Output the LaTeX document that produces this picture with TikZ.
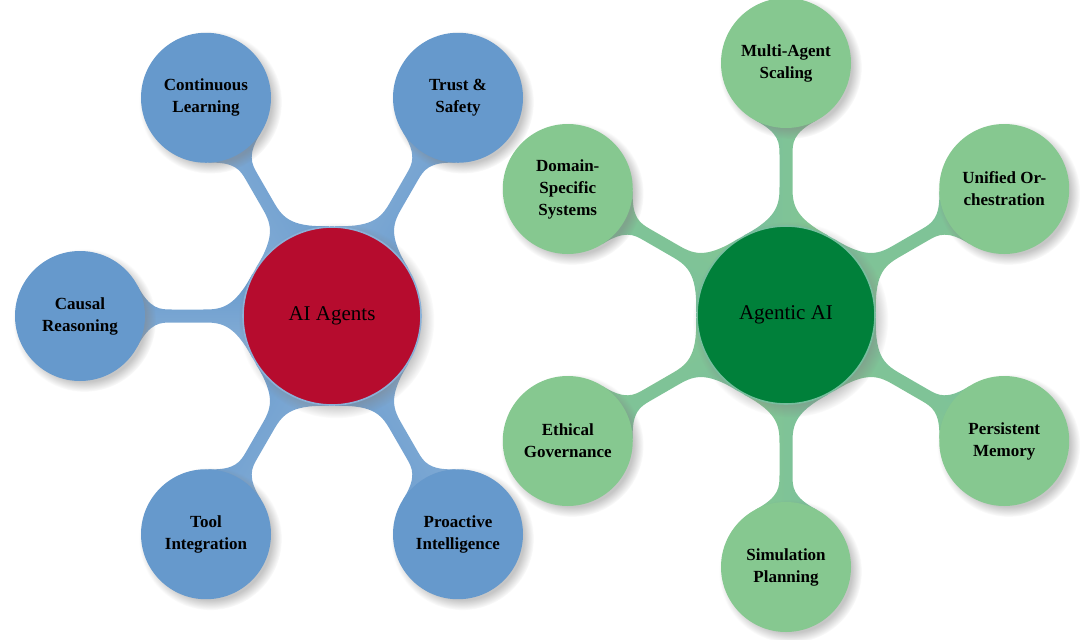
\documentclass[tikz,border=0pt]{standalone}
\usepackage{fontspec}
\setmainfont{Liberation Serif}
\usetikzlibrary{calc,shadows,fadings}
\definecolor{blueChild}{RGB}{102,153,204}
\definecolor{blueBar}{RGB}{138,177,216}
\definecolor{redRoot}{RGB}{182,12,46}
\definecolor{greenRoot}{RGB}{0,128,58}
\definecolor{greenChild}{RGB}{134,200,144}
\definecolor{greenBar}{RGB}{120,190,158}
\pgfdeclarelayer{bg}
\pgfsetlayers{bg,main}
\tikzset{
  x=1pt, y=-1pt,
  myshadow/.style={circular drop shadow={shadow xshift=4pt, shadow yshift=-4pt, opacity=0.45}},
  rootnode/.style={circle, minimum size=178pt, inner sep=0pt, line width=1.6pt,
    font=\fontsize{21}{25}\selectfont, text=black, myshadow},
  leafnode/.style={circle, minimum size=130pt, inner sep=0pt, align=center,
    font=\fontsize{17}{22}\selectfont\bfseries, text=black, myshadow},
  bluechild/.style={leafnode, fill=blueChild},
  greenchild/.style={leafnode, fill=greenChild},
  connbar/.style={to path={
    ($(\tikztostart)!79.5pt!(\tikztotarget)!42.2pt!90:(\tikztotarget)$)
    .. controls ($(\tikztostart)!98.5pt!(\tikztotarget)!6.5pt!90:(\tikztotarget)$)
       and ($(\tikztostart)!112pt!(\tikztotarget)!6.5pt!90:(\tikztotarget)$) ..
    ($(\tikztostart)!130pt!(\tikztotarget)!6.5pt!90:(\tikztotarget)$)
    -- ($(\tikztotarget)!92pt!(\tikztostart)!6.5pt!270:(\tikztostart)$)
    .. controls ($(\tikztotarget)!80pt!(\tikztostart)!6.5pt!270:(\tikztostart)$)
       and ($(\tikztotarget)!70.1pt!(\tikztostart)!6.5pt!270:(\tikztostart)$) ..
    ($(\tikztotarget)!57.4pt!(\tikztostart)!30.5pt!270:(\tikztostart)$)
    -- (\tikztotarget.center)
    -- ($(\tikztotarget)!57.4pt!(\tikztostart)!30.5pt!90:(\tikztostart)$)
    .. controls ($(\tikztotarget)!70.1pt!(\tikztostart)!6.5pt!90:(\tikztostart)$)
       and ($(\tikztotarget)!80pt!(\tikztostart)!6.5pt!90:(\tikztostart)$) ..
    ($(\tikztotarget)!92pt!(\tikztostart)!6.5pt!90:(\tikztostart)$)
    -- ($(\tikztostart)!130pt!(\tikztotarget)!6.5pt!270:(\tikztotarget)$)
    .. controls ($(\tikztostart)!112pt!(\tikztotarget)!6.5pt!270:(\tikztotarget)$)
       and ($(\tikztostart)!98.5pt!(\tikztotarget)!6.5pt!270:(\tikztotarget)$) ..
    ($(\tikztostart)!79.5pt!(\tikztotarget)!42.2pt!270:(\tikztotarget)$)
    -- (\tikztostart.center) -- cycle}},
  bluebar/.style={connbar, left color=blueBar, right color=blueChild, shading angle=#1},
  greenbar/.style={connbar, left color=greenBar, right color=greenChild, shading angle=#1},
}
\begin{document}
\begin{tikzpicture}
\useasboundingbox (0,0) rectangle (1080,640);
% left map
\node[rootnode, fill=redRoot, draw=blueBar] (r1) at (332,316) {AI Agents};
\node[bluechild] (cl) at ($(r1)+(120:252pt)$) {Continuous\\Learning};
\node[bluechild] (ts) at ($(r1)+(60:252pt)$) {Trust \&\\Safety};
\node[bluechild] (cr) at ($(r1)+(180:252pt)$) {Causal\\Reasoning};
\node[bluechild] (ti) at ($(r1)+(240:252pt)$) {Tool\\Integration};
\node[bluechild] (pi) at ($(r1)+(300:252pt)$) {Proactive\\Intelligence};
% right map
\node[rootnode, fill=greenRoot, draw=greenBar] (r2) at (786,315) {Agentic AI};
\node[greenchild] (ma) at ($(r2)+(90:252pt)$) {Multi-Agent\\Scaling};
\node[greenchild] (uo) at ($(r2)+(30:252pt)$) {Unified Or-\\chestration};
\node[greenchild] (pm) at ($(r2)+(-30:252pt)$) {Persistent\\Memory};
\node[greenchild] (sp) at ($(r2)+(-90:252pt)$) {Simulation\\Planning};
\node[greenchild] (eg) at ($(r2)+(210:252pt)$) {Ethical\\Governance};
\node[greenchild] (ds) at ($(r2)+(150:252pt)$) {Domain-\\Specific\\Systems};
\begin{pgfonlayer}{bg}
\shade[bluebar=120] (r1) to (cl);
\shade[bluebar=60] (r1) to (ts);
\shade[bluebar=180] (r1) to (cr);
\shade[bluebar=240] (r1) to (ti);
\shade[bluebar=300] (r1) to (pi);
\shade[greenbar=90] (r2) to (ma);
\shade[greenbar=30] (r2) to (uo);
\shade[greenbar=-30] (r2) to (pm);
\shade[greenbar=-90] (r2) to (sp);
\shade[greenbar=210] (r2) to (eg);
\shade[greenbar=150] (r2) to (ds);
\end{pgfonlayer}
\end{tikzpicture}
\end{document}
